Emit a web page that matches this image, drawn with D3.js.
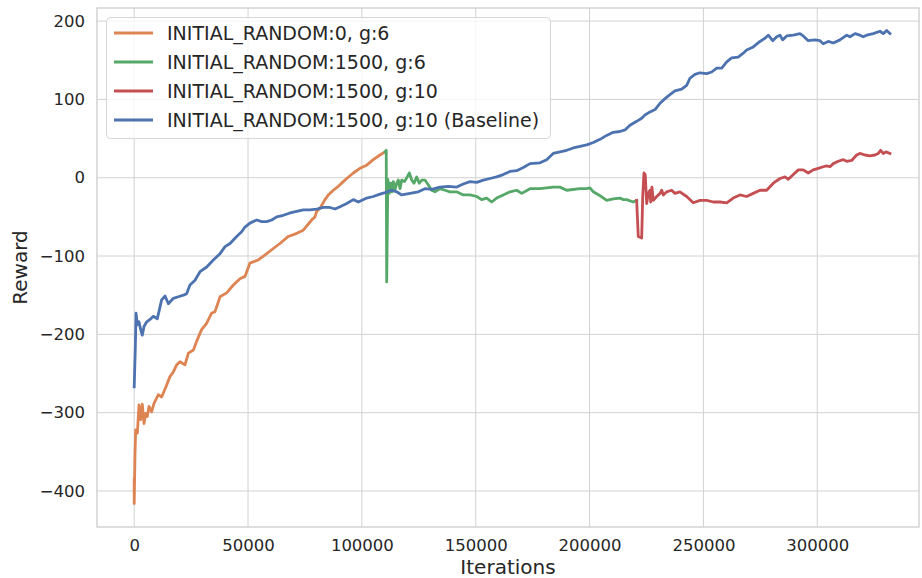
<!DOCTYPE html>
<html>
<head>
<meta charset="utf-8">
<script src="https://cdn.jsdelivr.net/npm/d3@7"></script>
<style>
  body { margin: 0; background: #fff; }
  text { font-family: "DejaVu Sans", sans-serif; fill: #262626; }
</style>
</head>
<body>
<div id="chart"></div>
<script>
// series: [iteration, reward]
var orangeRun = [[0,-385],[0,-416],[350,-352],[650,-322],[1400,-326],[2100,-290],[2850,-309],[3550,-289],[4300,-314],
  [5050,-301],[5750,-305],[6500,-292],[7650,-299],[8700,-288],[10600,-277],[12050,-280],[13950,-267],[15700,-254],
  [17200,-248],[18650,-239],[20100,-235],[22300,-239],[23800,-224],[26000,-220],[27400,-209],[29600,-194],[31800,-186],
  [34000,-173],[35500,-171],[37700,-152],[40600,-147],[43550,-137],[46450,-129],[48650,-126],[50850,-109],[54500,-105],
  [58200,-97],[60400,-92],[64000,-84],[67700,-75],[71400,-71],[74250,-67],[77950,-54],[79400,-50],[80150,-43],
  [81600,-39],[83800,-28],[85250,-22],[87450,-16],[89650,-11],[91850,-5],[93350,-1],[96250,6],[99150,12],
  [102100,16],[105000,23],[107950,29],[110150,33]];

var greenRun = [[110150,33],[110700,35],[110900,-133],[111400,-2],[112050,-20],[112650,-7],[113250,-18],[113800,-5],
  [114550,-16],[115300,-7],[116000,-3],[116750,-14],[117500,-3],[118700,-5],[119700,0],[120850,6],[121900,-3],
  [122900,-7],[124100,1],[125200,-7],[126300,-3],[127700,-3],[129150,-9],[130650,-16],[132100,-18],[134300,-14],
  [136500,-16],[138700,-18],[141650,-18],[144550,-22],[147500,-22],[150450,-24],[152600,-28],[154800,-26],
  [157000,-31],[159200,-26],[162100,-22],[165050,-18],[168000,-16],[170200,-20],[173850,-14],[178250,-14],
  [184050,-12],[187000,-12],[189950,-16],[195800,-14],[198750,-14],[200200,-13],[201650,-18],[204600,-23],
  [207500,-29],[210400,-27],[213350,-26],[214800,-28],[216300,-28],[219200,-31],[220700,-29]];

var redRun = [[220700,-29],[220950,-46],[221400,-75],[222900,-77],[223350,-24],[223900,6],[224450,4],[225100,-33],
  [225800,-20],[226550,-16],[226850,-31],[227400,-12],[228000,-29],[229500,-24],[230950,-20],[231700,-16],
  [232400,-22],[233900,-18],[236050,-16],[237500,-20],[239700,-18],[242650,-24],[245550,-32],[248500,-29],
  [251450,-29],[254350,-31],[257300,-31],[260250,-32],[263100,-26],[266050,-22],[269000,-24],[271900,-20],
  [274850,-16],[277800,-16],[280700,-7],[283650,-1],[285850,1],[287300,-2],[289500,4],[291700,10],[293850,10],
  [296050,6],[298250,10],[300450,12],[302650,14],[304150,15],[305600,14],[307050,18],[309250,21],[311450,23],
  [312950,21],[315150,22],[317300,29],[318750,31],[320950,29],[323150,28],[325350,29],[326800,31],[327850,35],
  [329000,31],[330200,33],[331950,31]];

var blueRun = [[0,-267],[500,-216],[800,-173],[1400,-188],[2100,-184],[2850,-194],[3550,-201],[4300,-190],
  [5500,-184],[6950,-181],[8400,-177],[10150,-180],[12050,-156],[13550,-151],[15000,-161],[17200,-154],
  [19400,-152],[21600,-150],[23050,-148],[24500,-137],[26700,-131],[28900,-120],[31850,-114],[34750,-105],
  [37700,-97],[39900,-88],[42100,-84],[45000,-75],[47200,-69],[48650,-63],[50850,-58],[53800,-54],[56000,-56],
  [58200,-56],[60400,-54],[62600,-50],[65500,-48],[68450,-45],[71350,-43],[74250,-41],[77200,-41],[80150,-40],
  [83050,-38],[86000,-38],[88200,-40],[90400,-37],[93350,-33],[96250,-28],[98450,-31],[102100,-26],[105000,-24],
  [107950,-21],[110150,-19],[113100,-16],[115300,-18],[117500,-22],[121150,-20],[124800,-18],[127700,-14],
  [130650,-15],[134300,-12],[137950,-11],[141650,-12],[144550,-8],[147500,-5],[150450,-6],[153350,-3],
  [156250,-1],[159200,1],[162100,4],[165050,8],[168000,9],[170900,13],[173850,18],[178250,19],[181150,23],
  [184050,31],[187000,33],[189950,35],[192850,38],[195800,40],[198750,42],[201650,45],[204600,49],[207500,54],
  [210400,58],[213350,59],[215550,61],[217750,67],[220700,72],[222900,76],[224350,80],[226550,84],[228750,87],
  [230950,95],[233150,101],[235300,106],[237500,111],[240450,113],[242650,118],[244100,127],[246300,132],
  [248500,134],[251450,133],[253650,135],[255850,140],[258050,140],[260250,148],[262400,153],[265300,154],
  [267500,159],[269000,163],[271900,167],[274850,174],[277050,178],[278500,182],[280450,175],[282200,180],
  [283650,182],[284800,176],[286600,181],[289500,182],[292400,184],[293850,181],[296050,175],[299000,176],
  [301200,175],[302650,171],[304850,174],[307050,172],[310000,176],[312950,182],[314400,180],[316600,184],
  [318750,182],[320200,180],[321700,182],[324600,184],[327550,187],[329000,184],[330500,188],[331950,184]];

var seriesNames = ["INITIAL_RANDOM:0, g:6", "INITIAL_RANDOM:1500, g:6",
  "INITIAL_RANDOM:1500, g:10", "INITIAL_RANDOM:1500, g:10 (Baseline)"];
var seriesColors = ["#dd8452", "#55a868", "#c44e52", "#4c72b0"];
var xTicks = [0, 50000, 100000, 150000, 200000, 250000, 300000];
var yTicks = [-400, -300, -200, -100, 0, 100, 200];

function drawChart() {
  var W = 922, H = 578;
  var pl = 97, pr = 919, pt = 8, pb = 527;

  var svg = d3.select("#chart").append("svg")
    .attr("width", W)
    .attr("height", H);

  var x = d3.scaleLinear().domain([-16340, 344700]).range([pl, pr]);
  var y = d3.scaleLinear().domain([-446, 216.7]).range([pb, pt]);

  // grid
  svg.append("g").selectAll("line").data(xTicks).enter().append("line")
    .attr("x1", function(d){ return x(d); }).attr("x2", function(d){ return x(d); })
    .attr("y1", pt).attr("y2", pb)
    .attr("stroke", "#d2d2d2").attr("stroke-width", 1);
  svg.append("g").selectAll("line").data(yTicks).enter().append("line")
    .attr("y1", function(d){ return y(d); }).attr("y2", function(d){ return y(d); })
    .attr("x1", pl).attr("x2", pr)
    .attr("stroke", "#d2d2d2").attr("stroke-width", 1);

  // axes (no tick marks, seaborn whitegrid)
  var fmtY = function(d){ return d < 0 ? "\u2212" + Math.abs(d) : "" + d; };

  var gx = svg.append("g")
    .attr("transform", "translate(0," + pb + ")")
    .call(d3.axisBottom(x).tickValues(xTicks).tickSize(0).tickPadding(12).tickFormat(d3.format("d")));
  var gy = svg.append("g")
    .attr("transform", "translate(" + pl + ",0)")
    .call(d3.axisLeft(y).tickValues(yTicks).tickSize(0).tickPadding(12).tickFormat(fmtY));
  [gx, gy].forEach(function(g){
    g.select(".domain").remove();
    g.selectAll("text").style("font-size", "16.5px").attr("fill", "#262626")
      .style("font-family", "'DejaVu Sans', sans-serif");
  });

  // lines
  var line = d3.line()
    .x(function(d){ return x(d[0]); })
    .y(function(d){ return y(d[1]); });

  [orangeRun, greenRun, redRun, blueRun].forEach(function(run, i){
    svg.append("path")
      .attr("d", line(run))
      .attr("fill", "none")
      .attr("stroke", seriesColors[i])
      .attr("stroke-width", 2.8)
      .attr("stroke-linejoin", "round")
      .attr("stroke-linecap", "square");
  });

  // frame
  svg.append("rect")
    .attr("x", pl).attr("y", pt)
    .attr("width", pr - pl).attr("height", pb - pt)
    .attr("fill", "none").attr("stroke", "#cccccc").attr("stroke-width", 1.3);

  // axis labels
  svg.append("text")
    .attr("x", (pl + pr) / 2).attr("y", 574)
    .attr("text-anchor", "middle")
    .style("font-size", "20px")
    .text("Iterations");
  svg.append("text")
    .attr("transform", "translate(27," + (pt + pb) / 2 + ") rotate(-90)")
    .attr("text-anchor", "middle")
    .style("font-size", "20px")
    .text("Reward");

  // legend
  var legend = svg.append("g");
  legend.append("rect")
    .attr("x", 106.5).attr("y", 17.5)
    .attr("width", 444).attr("height", 121)
    .attr("rx", 4)
    .attr("fill", "#fff").attr("fill-opacity", 0.8)
    .attr("stroke", "#d6d6d6").attr("stroke-width", 1);

  var rowY = [33, 62, 91, 120];
  seriesNames.forEach(function(name, i){
    legend.append("line")
      .attr("x1", 114).attr("x2", 153)
      .attr("y1", rowY[i]).attr("y2", rowY[i])
      .attr("stroke", seriesColors[i]).attr("stroke-width", 2.8);
    legend.append("text")
      .attr("x", 167).attr("y", rowY[i] + 7)
      .style("font-size", "19px")
      .text(name);
  });
}

drawChart();
</script>
</body>
</html>
